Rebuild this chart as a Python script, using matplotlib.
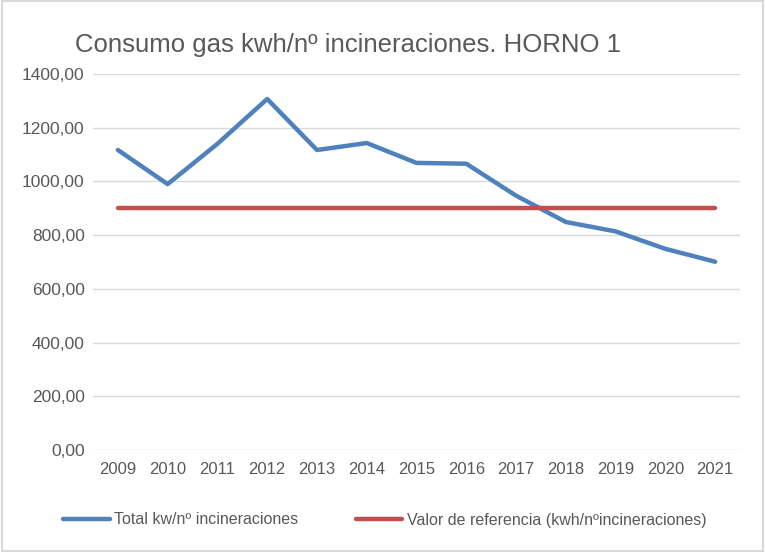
import matplotlib
matplotlib.use("Agg")
import matplotlib.pyplot as plt
from matplotlib.patches import Rectangle
from matplotlib.ticker import FuncFormatter

plt.rcParams['font.family'] = ['Liberation Sans', 'DejaVu Sans']

# datos
anios = ['2009', '2010', '2011', '2012', '2013', '2014', '2015',
         '2016', '2017', '2018', '2019', '2020', '2021']
total_kw = [1117, 990, 1140, 1307, 1117, 1143, 1069,
            1066, 947, 849, 814, 749, 701]
referencia = [900] * len(anios)

azul = '#4f81bd'
rojo = '#c0504d'
gris = '#595959'

fig = plt.figure(figsize=(7.65, 5.52), dpi=100)
ax = fig.add_axes([93 / 765, 1 - 450 / 552, (740 - 93) / 765, (450 - 74) / 552])

x = range(len(anios))
ax.plot(x, total_kw, color=azul, lw=3.2, solid_capstyle='round',
        solid_joinstyle='round', label='Total kw/nº incineraciones')
ax.plot(x, referencia, color=rojo, lw=3.2, solid_capstyle='round',
        label='Valor de referencia (kwh/nºincineraciones)')

ax.set_xlim(-0.5, len(anios) - 0.5)
ax.set_ylim(0, 1400)
ax.set_yticks(range(0, 1401, 200))
ax.yaxis.set_major_formatter(FuncFormatter(lambda v, p: f'{v:.2f}'.replace('.', ',')))
ax.set_xticks(list(x))
ax.set_xticklabels(anios)
ax.grid(axis='y', color='#d9d9d9', lw=1)
ax.set_axisbelow(True)
for s in ax.spines.values():
    s.set_visible(False)
ax.tick_params(length=0, labelsize=12, colors=gris, pad=9)
ax.tick_params(axis='y', labelsize=12.5, pad=6)

fig.text(75 / 765, 1 - 45 / 552, 'Consumo gas kwh/nº incineraciones. HORNO 1',
         fontsize=18.5, color=gris, va='center', ha='left')

fig.legend(loc='center', bbox_to_anchor=(385 / 765, 1 - 520 / 552), ncol=2,
           frameon=False, fontsize=11.5, labelcolor=gris, handlelength=2.9,
           columnspacing=3.6, handletextpad=0.3)

# borde del area del grafico
fig.patches.append(Rectangle((0.002, 0.002), 0.996, 0.996, transform=fig.transFigure,
                             fill=False, edgecolor='#d9d9d9', lw=1.5))

fig.savefig('out.png', dpi=100)
